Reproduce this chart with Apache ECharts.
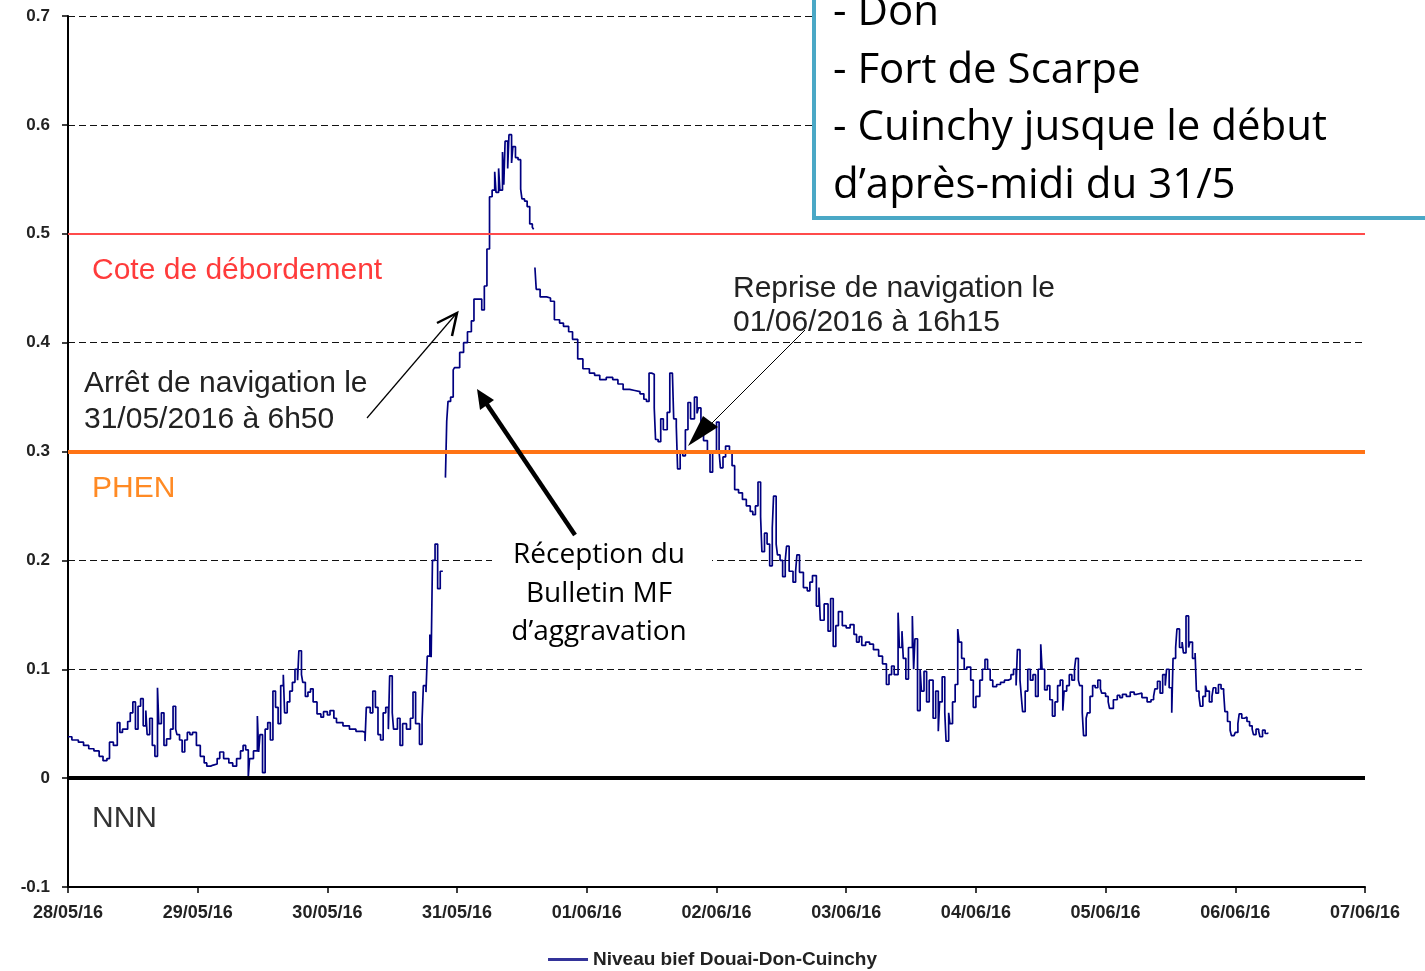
<!DOCTYPE html>
<html>
<head>
<meta charset="utf-8">
<script src="https://cdn.jsdelivr.net/npm/echarts@6/dist/echarts.min.js"></script>
<style>
  html, body { margin: 0; padding: 0; background: #fff; }
  #main { width: 1425px; height: 971px; }
</style>
</head>
<body>
<div id="main"></div>
<script>
// axe des dates (un tick par jour, 0 = 28/05/16 00h)
var dayLabels = ['28/05/16', '29/05/16', '30/05/16', '31/05/16', '01/06/16', '02/06/16',
                 '03/06/16', '04/06/16', '05/06/16', '06/06/16', '07/06/16'];

// seuils (m)
var coteDebordement = 0.5;
var phen = 0.3;
var nnn = 0;

// niveau bief Douai-Don-Cuinchy : temps en jours depuis le 28/05, niveau en m
var t = [
  0.00, 0.03, 0.08, 0.12, 0.16, 0.20, 0.24, 0.27, 0.30, 0.32, 0.35, 0.38, 0.40, 0.42, 0.46, 0.48, 0.50, 0.52, 0.54, 0.56,
  0.58, 0.60, 0.61, 0.63, 0.65, 0.67, 0.69, 0.70, 0.72, 0.74, 0.76, 0.79, 0.81, 0.83, 0.84, 0.86, 0.88, 0.90, 0.92, 0.94,
  0.96, 0.99, 1.02, 1.05, 1.07, 1.10, 1.12, 1.15, 1.17, 1.20, 1.24, 1.27, 1.30, 1.33, 1.35, 1.37, 1.39, 1.40, 1.43, 1.46,
  1.47, 1.48, 1.50, 1.52, 1.54, 1.56, 1.58, 1.60, 1.62, 1.64, 1.66, 1.67, 1.69, 1.71, 1.73, 1.75, 1.77, 1.78, 1.80, 1.81,
  1.83, 1.85, 1.87, 1.89, 1.92, 1.95, 1.97, 2.00, 2.02, 2.05, 2.07, 2.12, 2.17, 2.22, 2.27, 2.29, 2.30, 2.33, 2.35, 2.37,
  2.39, 2.41, 2.43, 2.45, 2.47, 2.48, 2.50, 2.51, 2.54, 2.56, 2.58, 2.61, 2.64, 2.66, 2.68, 2.71, 2.73, 2.74, 2.76, 2.77,
  2.79, 2.80, 2.81, 2.83, 2.85, 2.87, 2.89, 2.91, 2.92, 2.93, 2.95, 2.97, 2.98, 3.02, 3.05, 3.08, 3.11, 3.13, 3.17, 3.19,
  3.21, 3.23, 3.25, 3.27, 3.29, 3.30, 3.32, 3.33, 3.35, 3.36, 3.37, 3.39, 3.40, 3.42, 3.43, 3.45, 3.47, 3.49, 3.50, 3.52,
  3.54, 3.56, 3.58, 3.59, 3.595, 3.60, 3.61, 3.64, 3.69, 3.72, 3.75, 3.79, 3.82, 3.86, 3.89, 3.93, 3.97, 4.02, 4.06, 4.10,
  4.15, 4.20, 4.24, 4.28, 4.33, 4.37, 4.41, 4.44, 4.46, 4.48, 4.50, 4.52, 4.53, 4.55, 4.57, 4.59, 4.62, 4.64, 4.66, 4.67,
  4.69, 4.70, 4.72, 4.74, 4.76, 4.78, 4.80, 4.83, 4.85, 4.86, 4.88, 4.90, 4.93, 4.95, 4.97, 5.00, 5.02, 5.03, 5.05, 5.07,
  5.10, 5.12, 5.14, 5.17, 5.20, 5.23, 5.26, 5.28, 5.30, 5.32, 5.34, 5.35, 5.37, 5.39, 5.41, 5.43, 5.44, 5.46, 5.47, 5.49,
  5.51, 5.53, 5.54, 5.56, 5.59, 5.61, 5.62, 5.64, 5.67, 5.70, 5.72, 5.74, 5.77, 5.79, 5.80, 5.83, 5.86, 5.88, 5.90, 5.92,
  5.94, 5.97, 6.00, 6.03, 6.06, 6.08, 6.10, 6.12, 6.15, 6.18, 6.21, 6.25, 6.28, 6.31, 6.33, 6.35, 6.37, 6.40, 6.41, 6.43,
  6.44, 6.46, 6.48, 6.51, 6.52, 6.53, 6.55, 6.57, 6.58, 6.60, 6.62, 6.64, 6.67, 6.69, 6.71, 6.72, 6.74, 6.76, 6.77, 6.79,
  6.80, 6.82, 6.84, 6.86, 6.87, 6.89, 6.91, 6.93, 6.96, 6.98, 7.00, 7.03, 7.05, 7.07, 7.09, 7.11, 7.13, 7.16, 7.19, 7.22,
  7.25, 7.27, 7.29, 7.31, 7.32, 7.34, 7.35, 7.36, 7.38, 7.40, 7.42, 7.44, 7.46, 7.48, 7.50, 7.51, 7.53, 7.55, 7.57, 7.59,
  7.61, 7.63, 7.65, 7.67, 7.68, 7.70, 7.72, 7.74, 7.76, 7.77, 7.79, 7.80, 7.82, 7.83, 7.85, 7.86, 7.88, 7.90, 7.92, 7.94,
  7.96, 7.97, 8.00, 8.02, 8.03, 8.06, 8.09, 8.11, 8.13, 8.16, 8.19, 8.22, 8.24, 8.28, 8.32, 8.35, 8.37, 8.38, 8.40, 8.42,
  8.44, 8.46, 8.47, 8.49, 8.51, 8.52, 8.54, 8.55, 8.57, 8.59, 8.60, 8.62, 8.64, 8.65, 8.67, 8.69, 8.70, 8.72, 8.73, 8.75,
  8.77, 8.78, 8.80, 8.82, 8.83, 8.85, 8.87, 8.89, 8.91, 8.92, 8.94, 8.96, 8.97, 8.99, 9.00, 9.02, 9.03, 9.05, 9.07, 9.09,
  9.11, 9.13, 9.14, 9.16, 9.18, 9.19, 9.21, 9.23, 9.25
];
var niveau = [
  0.038, 0.035, 0.033, 0.030, 0.027, 0.025, 0.020, 0.016, 0.018, 0.033, 0.030, 0.051, 0.042, 0.045, 0.052, 0.060, 0.070, 0.045, 0.066, 0.073,
  0.048, 0.062, 0.040, 0.055, 0.030, 0.020, 0.083, 0.050, 0.060, 0.030, 0.036, 0.045, 0.066, 0.045, 0.040, 0.035, 0.024, 0.035, 0.042, 0.040,
  0.042, 0.030, 0.020, 0.014, 0.011, 0.012, 0.013, 0.018, 0.024, 0.018, 0.014, 0.011, 0.018, 0.025, 0.030, 0.026, 0.001, 0.018, 0.025, 0.057,
  0.024, 0.040, 0.005, 0.045, 0.051, 0.035, 0.080, 0.065, 0.050, 0.085, 0.095, 0.060, 0.070, 0.080, 0.088, 0.100, 0.090, 0.117, 0.095, 0.088,
  0.075, 0.079, 0.082, 0.070, 0.059, 0.056, 0.061, 0.058, 0.062, 0.055, 0.051, 0.048, 0.045, 0.043, 0.042, 0.034, 0.065, 0.060, 0.080, 0.065,
  0.040, 0.035, 0.060, 0.065, 0.045, 0.094, 0.060, 0.045, 0.055, 0.030, 0.050, 0.045, 0.055, 0.079, 0.050, 0.031, 0.054, 0.085, 0.079, 0.112,
  0.132, 0.111, 0.200, 0.215, 0.174, 0.190, null, 0.276, 0.328, 0.346, 0.350, 0.375, 0.377, 0.391, 0.400, 0.410, 0.420, 0.440, 0.440, 0.430,
  0.452, 0.486, 0.534, 0.540, 0.557, 0.538, 0.560, 0.540, 0.575, 0.545, 0.585, 0.560, 0.591, 0.565, 0.580, 0.570, 0.568, 0.541, 0.532, 0.530,
  0.525, 0.509, 0.506, 0.504, null, 0.469, 0.449, 0.442, 0.441, 0.438, 0.421, 0.418, 0.415, 0.410, 0.403, 0.385, 0.376, 0.372, 0.370, 0.366,
  0.368, 0.366, 0.362, 0.357, 0.356, 0.355, 0.353, 0.348, 0.346, 0.372, 0.371, 0.340, 0.311, 0.309, 0.330, 0.320, 0.336, 0.372, 0.373, 0.330,
  0.323, 0.284, 0.300, 0.296, 0.320, 0.345, 0.330, 0.350, 0.335, 0.340, 0.320, 0.310, 0.300, 0.281, 0.300, 0.327, 0.300, 0.285, 0.295, 0.305,
  0.300, 0.287, 0.265, 0.262, 0.256, 0.250, 0.245, 0.242, 0.250, 0.272, 0.240, 0.208, 0.225, 0.215, 0.195, 0.230, 0.259, 0.215, 0.205, 0.200,
  0.185, 0.200, 0.213, 0.190, 0.180, 0.190, 0.205, 0.189, 0.175, 0.172, 0.180, 0.186, 0.158, 0.175, 0.145, 0.160, 0.135, 0.165, 0.121, 0.140,
  0.153, 0.140, 0.138, 0.141, 0.132, 0.125, 0.130, 0.122, 0.125, 0.123, 0.118, 0.112, 0.105, 0.086, 0.095, 0.103, 0.095, 0.152, 0.120, 0.135,
  0.110, 0.091, 0.120, 0.149, 0.100, 0.128, 0.062, 0.100, 0.080, 0.098, 0.070, 0.090, 0.055, 0.080, 0.043, 0.070, 0.093, 0.060, 0.034, 0.060,
  0.050, 0.070, 0.086, 0.137, 0.125, 0.110, 0.100, 0.102, 0.090, 0.065, 0.075, 0.090, 0.100, 0.109, 0.100, 0.090, 0.084, 0.086, 0.088, 0.090,
  0.091, 0.095, 0.100, 0.085, 0.118, 0.090, 0.075, 0.061, 0.080, 0.100, 0.090, 0.095, 0.075, 0.100, 0.123, 0.100, 0.081, 0.085, 0.072, 0.057,
  0.070, 0.085, 0.090, 0.062, 0.080, 0.085, 0.095, 0.090, 0.100, 0.110, 0.090, 0.085, 0.060, 0.039, 0.055, 0.060, 0.075, 0.085, 0.083, 0.090,
  0.082, 0.078, 0.075, 0.070, 0.064, 0.072, 0.076, 0.074, 0.077, 0.075, 0.079, 0.077, 0.078, 0.074, 0.070, 0.072, 0.075, 0.082, 0.089, 0.078,
  0.095, 0.085, 0.100, 0.083, 0.060, 0.110, 0.120, 0.137, 0.120, 0.125, 0.115, 0.149, 0.120, 0.125, 0.110, 0.115, 0.080, 0.075, 0.066, 0.075,
  0.085, 0.080, 0.070, 0.075, 0.083, 0.078, 0.086, 0.082, 0.079, 0.061, 0.052, 0.044, 0.039, 0.039, 0.042, 0.050, 0.059, 0.055, 0.056, 0.052,
  0.048, 0.045, 0.040, 0.045, 0.043, 0.038, 0.044, 0.041, 0.042
];

var serieData = t.map(function (x, i) {
    return [x, niveau[i] === null ? '-' : niveau[i]];
});

var chart = echarts.init(document.getElementById('main'));

var labelFont = '"Liberation Sans", Arial, sans-serif';
var calibriLike = '"Open Sans", "Noto Sans", sans-serif';

var option = {
    backgroundColor: '#fff',
    animation: false,
    grid: { left: 68, right: 60, top: 16, bottom: 84 },
    xAxis: {
        type: 'value',
        min: 0,
        max: 10,
        interval: 1,
        axisLine: { onZero: false, lineStyle: { color: '#000', width: 2 } },
        axisTick: { length: 6, lineStyle: { color: '#000', width: 1.5 } },
        axisLabel: {
            margin: 17,
            color: '#222',
            fontFamily: labelFont,
            fontSize: 18,
            fontWeight: 'bold',
            formatter: function (v) { return dayLabels[Math.round(v)]; }
        },
        splitLine: { show: false }
    },
    yAxis: {
        type: 'value',
        min: -0.1,
        max: 0.7,
        interval: 0.1,
        axisLine: { show: true, onZero: false, lineStyle: { color: '#000', width: 2 } },
        axisTick: { show: true, length: 6, lineStyle: { color: '#000', width: 1.5 } },
        axisLabel: {
            margin: 18,
            color: '#222',
            fontFamily: labelFont,
            fontSize: 17,
            fontWeight: 'bold',
            formatter: function (v) { return String(Math.round(v * 10) / 10); }
        },
        splitLine: { lineStyle: { color: '#111', width: 1.2, type: [7, 4] } }
    },
    legend: {
        bottom: -3,
        left: 'center',
        icon: 'rect',
        itemWidth: 40,
        itemHeight: 3,
        textStyle: { color: '#222', fontFamily: labelFont, fontSize: 19, fontWeight: 'bold' },
        data: ['Niveau bief Douai-Don-Cuinchy']
    },
    series: [{
        name: 'Niveau bief Douai-Don-Cuinchy',
        type: 'line',
        step: 'end',
        symbol: 'none',
        connectNulls: false,
        color: '#333399',
        lineStyle: { color: '#000080', width: 1.7 },
        data: serieData,
        markLine: {
            silent: true,
            symbol: ['none', 'none'],
            label: { show: false },
            data: [
                { yAxis: coteDebordement, lineStyle: { color: '#ff4b4b', width: 2, type: 'solid' } },
                { yAxis: phen, lineStyle: { color: '#ff7315', width: 4, type: 'solid' } },
                { yAxis: nnn, lineStyle: { color: '#000', width: 4, type: 'solid' } }
            ]
        }
    }],
    graphic: [
        // encadré en haut à droite
        { type: 'rect', z: 100, shape: { x: 814, y: -10, width: 640, height: 228 },
          style: { fill: '#fff', stroke: '#4aa8c6', lineWidth: 4 } },
        { type: 'text', z: 101, style: { text: '- Don', x: 833, y: 13, verticalAlign: 'middle', font: '42px ' + calibriLike, fill: '#000' } },
        { type: 'text', z: 101, style: { text: '- Fort de Scarpe', x: 833, y: 71, verticalAlign: 'middle', font: '42px ' + calibriLike, fill: '#000' } },
        { type: 'text', z: 101, style: { text: '- Cuinchy jusque le début', x: 833, y: 128, verticalAlign: 'middle', font: '42px ' + calibriLike, fill: '#000' } },
        { type: 'text', z: 101, style: { text: 'd\u2019après-midi du 31/5', x: 833, y: 186, verticalAlign: 'middle', font: '42px ' + calibriLike, fill: '#000' } },

        // libellés des seuils
        { type: 'text', z: 50, style: { text: 'Cote de débordement', x: 92, y: 271, verticalAlign: 'middle', font: '30px ' + labelFont, fill: '#ff3b3b' } },
        { type: 'text', z: 50, style: { text: 'PHEN', x: 92, y: 489, verticalAlign: 'middle', font: '30px ' + labelFont, fill: '#ff8a24' } },
        { type: 'text', z: 50, style: { text: 'NNN', x: 92, y: 819, verticalAlign: 'middle', font: '30px ' + labelFont, fill: '#333' } },

        // arrêt de navigation
        { type: 'text', z: 50, style: { text: 'Arrêt de navigation le\n31/05/2016 à 6h50', x: 84, y: 402, verticalAlign: 'middle', lineHeight: 36, font: '30px ' + labelFont, fill: '#222' } },
        { type: 'line', z: 50, shape: { x1: 367, y1: 418, x2: 456, y2: 314 }, style: { stroke: '#000', lineWidth: 1.2 } },
        { type: 'polyline', z: 50, shape: { points: [[437, 323], [457, 313], [452, 336]] }, style: { stroke: '#000', lineWidth: 2.5, fill: null } },

        // reprise de navigation
        { type: 'text', z: 50, style: { text: 'Reprise de navigation le\n01/06/2016 à 16h15', x: 733, y: 306, verticalAlign: 'middle', lineHeight: 34, font: '30px ' + labelFont, fill: '#222' } },
        { type: 'line', z: 50, shape: { x1: 805, y1: 330, x2: 712, y2: 423 }, style: { stroke: '#000', lineWidth: 1 } },
        { type: 'polygon', z: 50, shape: { points: [[688, 446], [703, 416], [718, 427]] }, style: { fill: '#000' } },

        // réception du bulletin MF
        { type: 'rect', z: 40, shape: { x: 492, y: 536, width: 220, height: 116 }, style: { fill: '#fff' } },
        { type: 'text', z: 50, style: { text: 'Réception du\nBulletin MF\nd\u2019aggravation', x: 599, y: 594, align: 'center', verticalAlign: 'middle', lineHeight: 38.5, font: '28px ' + calibriLike, fill: '#000' } },
        { type: 'line', z: 50, shape: { x1: 575, y1: 535, x2: 486, y2: 403 }, style: { stroke: '#000', lineWidth: 4.5 } },
        { type: 'polygon', z: 50, shape: { points: [[477, 389], [494, 400], [480, 410]] }, style: { fill: '#000' } }
    ]
};

chart.setOption(option);
</script>
</body>
</html>
